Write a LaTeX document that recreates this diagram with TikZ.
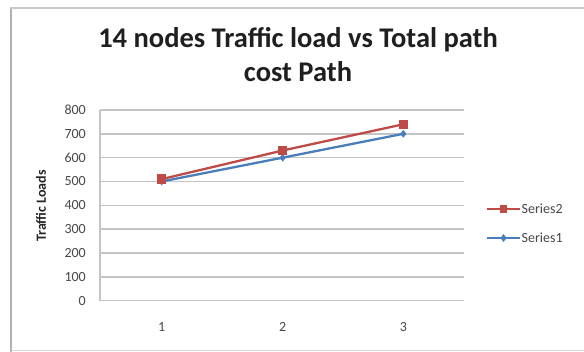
\documentclass[tikz,border=0pt]{standalone}
\usepackage{fontspec}
\setmainfont{Carlito}
\usetikzlibrary{shapes.geometric}
\definecolor{serA}{HTML}{4A7EBB}
\definecolor{serB}{HTML}{BE4B48}
\definecolor{gridc}{HTML}{C4C4C4}
\definecolor{labc}{HTML}{484848}
\definecolor{framec}{HTML}{B0B0B0}
\tikzset{
  gridline/.style={draw=gridc, line width=1.4pt},
  ticklab/.style={font=\fontsize{14}{16}\selectfont, text=labc, inner sep=0pt},
  titlefont/.style={font=\bfseries\fontsize{28.5}{34}\selectfont, text=black!88, inner sep=0pt, anchor=base},
  sqmark/.style={rectangle, fill=serB, minimum size=9.5pt, inner sep=0pt},
  sqsmall/.style={rectangle, fill=serB, minimum size=7.5pt, inner sep=0pt},
  dmmark/.style={diamond, fill=serA, minimum width=6.5pt, minimum height=8pt, inner sep=0pt},
  lineB/.style={draw=serB, line width=2.3pt},
  lineA/.style={draw=serA, line width=2.3pt},
}
\begin{document}
\begin{tikzpicture}[x=1pt,y=-1pt]
\useasboundingbox (0,0) rectangle (584,352);
\fill[white] (0,0) rectangle (584,352);
% frame
\draw[framec, line width=2.2pt] (11,8) -- (11,352);
\draw[framec!70, line width=1.2pt] (10,8) -- (584,8);
\draw[framec!50, line width=1pt] (11,351) -- (584,351);
% title
\node[titlefont] (title1) at (298,47.3) {14 nodes Traffic load vs Total path};
\node[titlefont] (title2) at (298,81.5) {cost Path};
% grid
\foreach \v [count=\i from 0] in {0,100,200,300,400,500,600,700,800}{
  \pgfmathsetmacro{\yy}{300.7-0.2384*\v}
  \draw[gridline] (100,\yy) -- (464,\yy);
  \node[ticklab, anchor=east] (yl\i) at (86,\yy) {\v};
}
\draw[gridc, line width=1.3pt] (100,110) -- (100,300.7);
% axis title
\node[font=\bfseries\fontsize{14}{16}\selectfont, rotate=90, text=black!85] (ytitle) at (41,206) {Traffic Loads};
% x labels
\node[ticklab] (x1) at (161.7,327) {1};
\node[ticklab] (x2) at (282.7,327) {2};
\node[ticklab] (x3) at (403.3,327) {3};
% data
\coordinate (a1) at (161.7,{300.7-0.2384*500});
\coordinate (a2) at (282.7,{300.7-0.2384*600});
\coordinate (a3) at (403.3,{300.7-0.2384*700});
\coordinate (b1) at (161.7,{300.7-0.2384*510});
\coordinate (b2) at (282.7,{300.7-0.2384*630});
\coordinate (b3) at (403.3,{300.7-0.2384*740});
\draw[lineA] (a1) -- (a2) -- (a3);
\node[dmmark] (da1) at (a1) {};
\node[dmmark] (da2) at (a2) {};
\node[dmmark] (da3) at (a3) {};
\draw[lineB] (b1) -- (b2) -- (b3);
\node[sqmark] (sb1) at (b1) {};
\node[sqmark] (sb2) at (b2) {};
\node[sqmark] (sb3) at (b3) {};
% legend
\coordinate (lb0) at (487,209);
\coordinate (lb1) at (520,209);
\draw[lineB] (lb0) -- (lb1);
\node[sqsmall] (lbm) at (503.5,209) {};
\node[ticklab, anchor=west] (lbt) at (521.5,209) {Series2};
\coordinate (la0) at (487,238);
\coordinate (la1) at (520,238);
\draw[lineA] (la0) -- (la1);
\node[dmmark] (lam) at (503.5,238) {};
\node[ticklab, anchor=west] (lat) at (521.5,238) {Series1};
\end{tikzpicture}
\end{document}
